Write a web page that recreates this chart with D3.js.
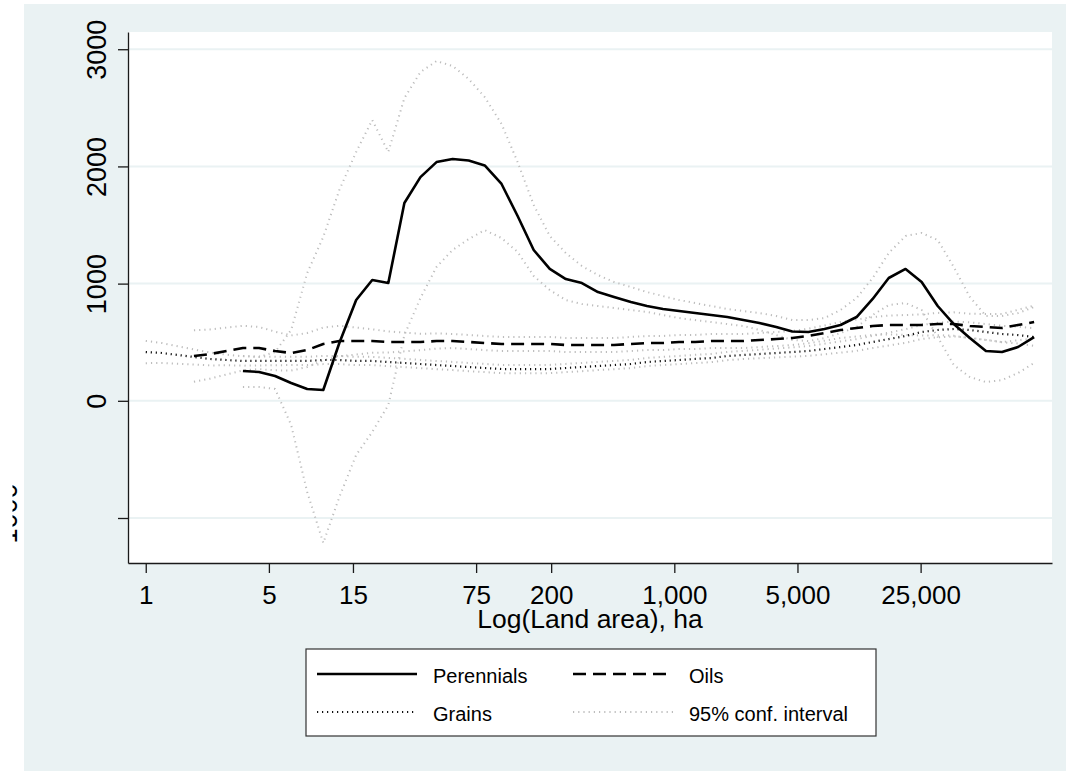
<html>
<head>
  <style>
  body {
    margin: 0;
    background: #ffffff;
    font-family: "Liberation Sans", Arial, sans-serif;
  }
  .axis .domain, .axis .tick line {
    stroke: #1a1a1a;
    stroke-width: 1.3px;
  }
  .axis text {
    fill: #000;
    font-family: "Liberation Sans", Arial, sans-serif;
  }
  </style>
</head>
<body>

<div id="chart"></div>

<script src="https://d3js.org/d3.v7.min.js"></script>
<script>

// ln(land area) grid of the smoothed estimates
var lnArea = [0.00, 0.21, 0.42, 0.63, 0.84, 1.06, 1.27, 1.48, 1.69, 1.90,
              2.11, 2.32, 2.53, 2.75, 2.96, 3.17, 3.38, 3.59, 3.80, 4.01,
              4.22, 4.43, 4.65, 4.86, 5.07, 5.28, 5.49, 5.70, 5.91, 6.12,
              6.34, 6.55, 6.76, 6.97, 7.18, 7.39, 7.60, 7.81, 8.02, 8.24,
              8.45, 8.66, 8.87, 9.08, 9.29, 9.50, 9.71, 9.93, 10.14, 10.35,
              10.56, 10.77, 10.98, 11.19, 11.40, 11.61];

var perennials = [null, null, null, null, null, null,
  254, 246, 212, 152, 101, 92, 493, 860, 1031, 1005, 1688, 1909, 2037, 2063,
  2050, 2008, 1850, 1577, 1287, 1125, 1039, 1005, 928, 886, 843, 809, 783, 766,
  749, 732, 715, 689, 664, 630, 591, 587, 613, 647, 715, 869, 1048, 1125, 1014,
  809, 655, 536, 425, 416, 459, 544];
var perennialsHi = [null, null, null, null, null, null,
  382, 374, 416, 604, 1090, 1398, 1799, 2123, 2396, 2123, 2583, 2805, 2899, 2857,
  2746, 2592, 2362, 2037, 1671, 1406, 1261, 1150, 1073, 1014, 971, 928, 894, 860,
  834, 809, 783, 766, 749, 724, 689, 689, 706, 775, 877, 1048, 1261, 1406, 1432,
  1372, 1142, 886, 724, 724, 749, 800];
var perennialsLo = [null, null, null, null, null, null,
  118, 118, 101, -206, -778, -1213, -821, -462, -266, -36, 561, 877, 1142, 1287,
  1380, 1457, 1389, 1270, 1065, 945, 860, 826, 809, 792, 775, 758, 732, 706,
  689, 672, 655, 638, 604, 561, 519, 510, 536, 578, 630, 732, 817, 834, 775,
  544, 305, 203, 160, 177, 237, 323];

var oils = [null, null, null,
  382, 399, 425, 450, 450, 425, 408, 433, 485, 510, 510, 510, 502, 502, 502, 510,
  510, 502, 493, 485, 485, 485, 485, 476, 476, 476, 476, 485, 493, 493, 502, 502,
  510, 510, 510, 519, 527, 536, 553, 578, 604, 621, 638, 647, 647, 647, 655, 655,
  638, 630, 621, 647, 672];
var oilsHi = [null, null, null,
  602, 609, 625, 640, 630, 590, 558, 578, 625, 640, 625, 610, 592, 582, 572, 575,
  570, 562, 553, 545, 545, 545, 545, 536, 536, 536, 536, 545, 553, 553, 562, 562,
  570, 570, 570, 579, 587, 596, 615, 643, 672, 693, 714, 727, 732, 737, 750, 755,
  743, 740, 741, 777, 812];
var oilsLo = [null, null, null,
  162, 189, 225, 260, 270, 260, 258, 288, 345, 380, 395, 410, 412, 422, 432, 445,
  450, 442, 433, 425, 425, 425, 425, 416, 416, 416, 416, 425, 433, 433, 442, 442,
  450, 450, 450, 459, 467, 476, 491, 513, 536, 549, 562, 567, 562, 557, 560, 555,
  533, 520, 501, 517, 532];

var grains = [416, 408, 391, 374, 357, 348, 340, 340, 340, 340, 340, 348, 348, 340,
  340, 331, 323, 314, 305, 297, 288, 280, 271, 271, 271, 271, 280, 288, 297, 305,
  314, 331, 340, 348, 357, 365, 382, 391, 399, 408, 416, 425, 442, 459, 476, 502,
  527, 553, 587, 604, 613, 604, 587, 570, 561, 544];
var grainsHi = [511, 493, 466, 439, 412, 393, 380, 378, 376, 375, 375, 383, 383, 375,
  375, 366, 358, 349, 340, 332, 323, 315, 306, 306, 306, 306, 315, 323, 332, 340,
  349, 366, 375, 383, 392, 400, 417, 426, 435, 446, 456, 467, 487, 507, 526, 554,
  582, 611, 647, 666, 677, 670, 655, 640, 633, 619];
var grainsLo = [321, 323, 316, 309, 302, 303, 300, 302, 304, 305, 305, 313, 313, 305,
  305, 296, 288, 279, 270, 262, 253, 245, 236, 236, 236, 236, 245, 253, 262, 270,
  279, 296, 305, 313, 322, 330, 347, 356, 363, 370, 376, 383, 397, 411, 426, 450,
  472, 495, 527, 542, 549, 538, 519, 500, 489, 469];

var xTicks = [1, 5, 15, 75, 200, 1000, 5000, 25000];
var yTicks = [-1000, 0, 1000, 2000, 3000];

var W = 1066, H = 771;
var plot = {left: 128, right: 1052, top: 32, bottom: 563};

var svg = d3.select("#chart")
  .append("svg")
    .attr("width", W)
    .attr("height", H);

// outer graph region
svg.append("rect")
  .attr("x", 24).attr("y", 4)
  .attr("width", W - 24).attr("height", H - 4)
  .attr("fill", "#eaf2f3");

// plot region
svg.append("rect")
  .attr("x", plot.left).attr("y", plot.top)
  .attr("width", plot.right - plot.left).attr("height", plot.bottom - plot.top)
  .attr("fill", "#ffffff");

var x = d3.scaleLog()
  .domain([0.793, 139200])
  .range([plot.left, plot.right]);

var y = d3.scaleLinear()
  .domain([-1384, 3147])
  .range([plot.bottom, plot.top]);

// gridlines
svg.append("g")
  .selectAll("line")
  .data(yTicks)
  .enter()
  .append("line")
    .attr("x1", plot.left).attr("x2", plot.right)
    .attr("y1", function(d) { return y(d); })
    .attr("y2", function(d) { return y(d); })
    .attr("stroke", "#eaf2f3")
    .attr("stroke-width", 2);

function pts(series) {
  return lnArea.map(function(l, i) { return [Math.exp(l), series[i]]; });
}

var line = d3.line()
  .defined(function(d) { return d[1] != null; })
  .x(function(d) { return x(d[0]); })
  .y(function(d) { return y(d[1]); });

var ciStyle = {stroke: "#bdbdbd", width: 2, dash: "1.2,4"};

var layers = [
  {data: grainsHi, stroke: ciStyle.stroke, width: ciStyle.width, dash: ciStyle.dash},
  {data: grainsLo, stroke: ciStyle.stroke, width: ciStyle.width, dash: ciStyle.dash},
  {data: oilsHi, stroke: ciStyle.stroke, width: ciStyle.width, dash: ciStyle.dash},
  {data: oilsLo, stroke: ciStyle.stroke, width: ciStyle.width, dash: ciStyle.dash},
  {data: perennialsHi, stroke: ciStyle.stroke, width: ciStyle.width, dash: ciStyle.dash},
  {data: perennialsLo, stroke: ciStyle.stroke, width: ciStyle.width, dash: ciStyle.dash},
  {data: grains, stroke: "#111", width: 2.2, dash: "1.2,3.8"},
  {data: oils, stroke: "#000", width: 2.6, dash: "13,7"},
  {data: perennials, stroke: "#000", width: 2.6, dash: null}
];

svg.append("g")
  .selectAll("path")
  .data(layers)
  .enter()
  .append("path")
    .attr("d", function(d) { return line(pts(d.data)); })
    .attr("fill", "none")
    .attr("stroke", function(d) { return d.stroke; })
    .attr("stroke-width", function(d) { return d.width; })
    .attr("stroke-dasharray", function(d) { return d.dash; })
    .attr("stroke-linejoin", "round");

// y axis
var yAxis = svg.append("g")
  .attr("class", "axis")
  .attr("transform", "translate(" + plot.left + ",0)")
  .call(d3.axisLeft(y)
    .tickValues(yTicks)
    .tickSize(10)
    .tickSizeOuter(0)
    .tickFormat(function(d) { return d === -1000 ? "" : d3.format("d")(d); }));

yAxis.selectAll(".tick text")
  .attr("x", 0)
  .attr("dy", 0)
  .attr("transform", "translate(-22,0) rotate(-90)")
  .attr("text-anchor", "middle")
  .style("font-size", "27px");

// the -1000 label sits clipped at the far left
svg.append("clipPath")
  .attr("id", "cut")
  .append("rect")
    .attr("x", 12.5).attr("y", 440)
    .attr("width", 8).attr("height", 130);

svg.append("g")
  .attr("clip-path", "url(#cut)")
  .append("text")
    .attr("transform", "translate(17," + y(-1000) + ") rotate(-90)")
    .attr("text-anchor", "middle")
    .style("font-size", "27px")
    .text("-1000");

// x axis
var xAxis = svg.append("g")
  .attr("class", "axis")
  .attr("transform", "translate(0," + plot.bottom + ")")
  .call(d3.axisBottom(x)
    .tickValues(xTicks)
    .tickSize(10)
    .tickSizeOuter(0)
    .tickFormat(d3.format(",")));

xAxis.selectAll(".tick text")
  .attr("y", 41)
  .attr("dy", 0)
  .style("font-size", "26px");

svg.append("text")
  .attr("x", (plot.left + plot.right) / 2)
  .attr("y", 628)
  .attr("text-anchor", "middle")
  .style("font-size", "26.5px")
  .text("Log(Land area), ha");

// legend
var legend = svg.append("g");

legend.append("rect")
  .attr("x", 306).attr("y", 649)
  .attr("width", 570).attr("height", 87)
  .attr("fill", "#ffffff")
  .attr("stroke", "#333")
  .attr("stroke-width", 1.2);

var keys = [
  {label: "Perennials", x: 317, y: 674, stroke: "#000", width: 2.6, dash: null},
  {label: "Oils", x: 573, y: 674, stroke: "#000", width: 2.6, dash: "13,7"},
  {label: "Grains", x: 317, y: 712, stroke: "#111", width: 2.2, dash: "1.2,3.8"},
  {label: "95% conf. interval", x: 573, y: 712, stroke: ciStyle.stroke, width: ciStyle.width, dash: ciStyle.dash}
];

var key = legend.selectAll(".key")
  .data(keys)
  .enter()
  .append("g")
    .attr("class", "key");

key.append("line")
  .attr("x1", function(d) { return d.x; })
  .attr("x2", function(d) { return d.x + 100; })
  .attr("y1", function(d) { return d.y; })
  .attr("y2", function(d) { return d.y; })
  .attr("stroke", function(d) { return d.stroke; })
  .attr("stroke-width", function(d) { return d.width; })
  .attr("stroke-dasharray", function(d) { return d.dash; });

key.append("text")
  .attr("x", function(d) { return d.x + 116; })
  .attr("y", function(d) { return d.y + 9; })
  .style("font-size", "20px")
  .text(function(d) { return d.label; });

</script>
</body>
</html>
